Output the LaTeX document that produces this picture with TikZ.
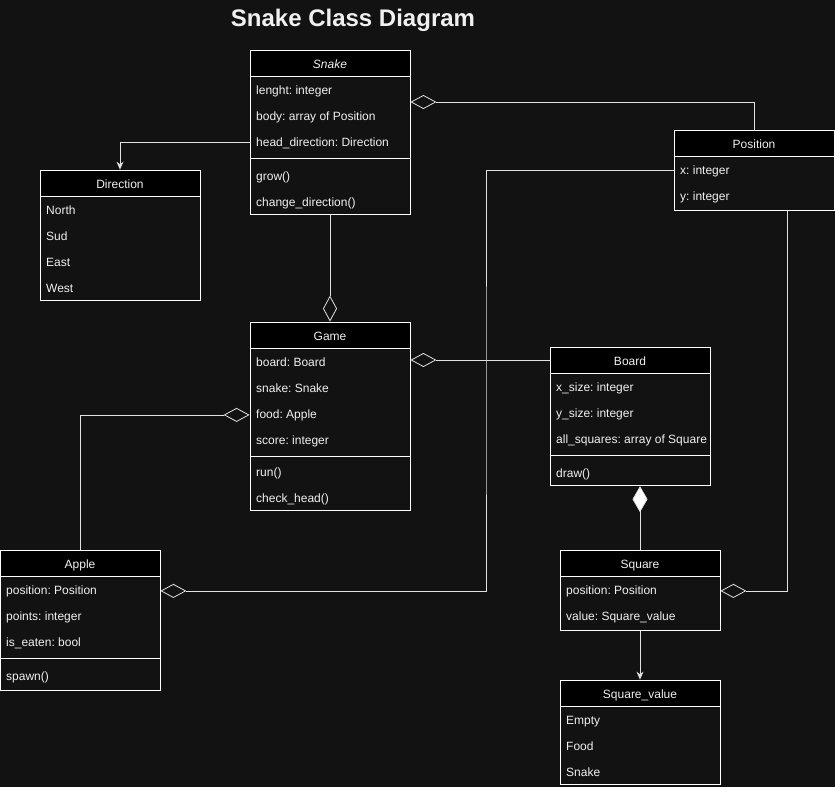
\documentclass[tikz,border=0pt]{standalone}
\usepackage{fontspec}
\setmainfont{Liberation Sans}
\usetikzlibrary{arrows.meta}
\definecolor{bg}{RGB}{18,18,18}
\definecolor{txt}{RGB}{240,240,240}
\definecolor{wire}{RGB}{225,225,225}
\frenchspacing
\tikzset{
  head/.style={draw=white, line width=.8pt, fill=black, text=txt, minimum width=160pt, minimum height=26pt, inner sep=0pt, text height=10pt, text depth=0pt, font=\fontsize{12}{14}\selectfont},
  cbody/.style={draw=white, line width=.8pt, anchor=north, minimum width=160pt, inner sep=0pt},
  attr/.style={anchor=base west, text=txt, inner sep=0pt, font=\fontsize{12}{14}\selectfont},
  sep/.style={draw=white, line width=.8pt},
  agg/.style={draw=wire, line width=.8pt, -{Diamond[open,length=26pt,width=14pt]}},
  comp/.style={draw=wire, line width=.8pt, -{Diamond[fill=white,length=26pt,width=15pt]}},
  assoc/.style={draw=wire, line width=.8pt, -{Stealth[length=8pt,width=7pt]}}
}
\begin{document}
\begin{tikzpicture}[x=1pt,y=-1pt]
    \fill[bg] (0,0) rectangle (835,787);
    \useasboundingbox (0,0) rectangle (835,787);
    \node[anchor=base, text=txt, font=\fontsize{24}{28}\selectfont\bfseries] (title) at (353,27) {Snake Class Diagram};

    % Snake
    \node[head] (snake) at (330,63) {\textit{Snake}};
    \node[cbody, minimum height=138pt] (snakeb) at (snake.south) {};
    \draw[sep] (250,158) -- (410,158);
    \node[attr] (lenght) at (256,94) {lenght: integer};
    \node[attr] (sbody) at (256,120) {body: array of Position};
    \node[attr] (hdir) at (256,146) {head\_direction: Direction};
    \node[attr] (grow) at (256,180) {grow()};
    \node[attr] (chdir) at (256,206) {change\_direction()};

    % Direction
    \node[head] (direction) at (120,183) {Direction};
    \node[cbody, minimum height=104pt] (directionb) at (direction.south) {};
    \node[attr] (north) at (46,214) {North};
    \node[attr] (sud) at (46,240) {Sud};
    \node[attr] (east) at (46,266) {East};
    \node[attr] (west) at (46,292) {West};

    % Position
    \node[head] (position) at (754,143) {Position};
    \node[cbody, minimum height=54pt] (positionb) at (position.south) {};
    \node[attr] (px) at (680,174) {x: integer};
    \node[attr] (py) at (680,200) {y: integer};

    % Game
    \node[head] (game) at (330,335) {Game};
    \node[cbody, minimum height=162pt] (gameb) at (game.south) {};
    \draw[sep] (250,456) -- (410,456);
    \node[attr] (board1) at (256,366) {board: Board};
    \node[attr] (snake1) at (256,392) {snake: Snake};
    \node[attr] (food) at (256,418) {food: Apple};
    \node[attr] (score) at (256,444) {score: integer};
    \node[attr] (run) at (256,476) {run()};
    \node[attr] (chead) at (256,502) {check\_head()};

    % Board
    \node[head] (board) at (630,360) {Board};
    \node[cbody, minimum height=112pt] (boardb) at (board.south) {};
    \draw[sep] (550,455) -- (710,455);
    \node[attr] (xsize) at (556,391) {x\_size: integer};
    \node[attr] (ysize) at (556,417) {y\_size: integer};
    \node[attr] (allsq) at (556,443) {all\_squares: array of Square};
    \node[attr] (bdraw) at (556,477) {draw()};

    % Apple
    \node[head] (apple) at (80,563) {Apple};
    \node[cbody, minimum height=114pt] (appleb) at (apple.south) {};
    \draw[sep] (0,658) -- (160,658);
    \node[attr] (apos) at (6,594) {position: Position};
    \node[attr] (points) at (6,620) {points: integer};
    \node[attr] (eaten) at (6,646) {is\_eaten: bool};
    \node[attr] (spawn) at (6,680) {spawn()};

    % Square
    \node[head] (square) at (640,563) {Square};
    \node[cbody, minimum height=54pt] (squareb) at (square.south) {};
    \node[attr] (sqpos) at (566,594) {position: Position};
    \node[attr] (sqval) at (566,620) {value: Square\_value};

    % Square_value
    \node[head] (sqvalue) at (640,693) {Square\_value};
    \node[cbody, minimum height=78pt] (sqvalueb) at (sqvalue.south) {};
    \node[attr] (empty) at (566,724) {Empty};
    \node[attr] (vfood) at (566,750) {Food};
    \node[attr] (vsnake) at (566,776) {Snake};

    % connectors
    \draw[assoc] (snakeb.west |- hdir) -| (direction.north);
    \draw[agg] (position.north) |- (snakeb.east |- 0,102);
    \draw[agg] (snakeb.south) -- (game.north);
    \draw[agg] (board.west) -- (gameb.east |- board.west);
    \draw[agg] (apple.north) |- (gameb.west |- food);
    \draw[agg] (positionb.west |- px) -| (486,400) |- (appleb.east |- apos);
    \draw[comp] (square.north) -- (boardb.south -| square.north);
    \draw[agg] (positionb.south -| 787,0) |- (squareb.east |- sqpos);
    \draw[assoc] (squareb.south) -- (sqvalue.north);
\end{tikzpicture}
\end{document}
